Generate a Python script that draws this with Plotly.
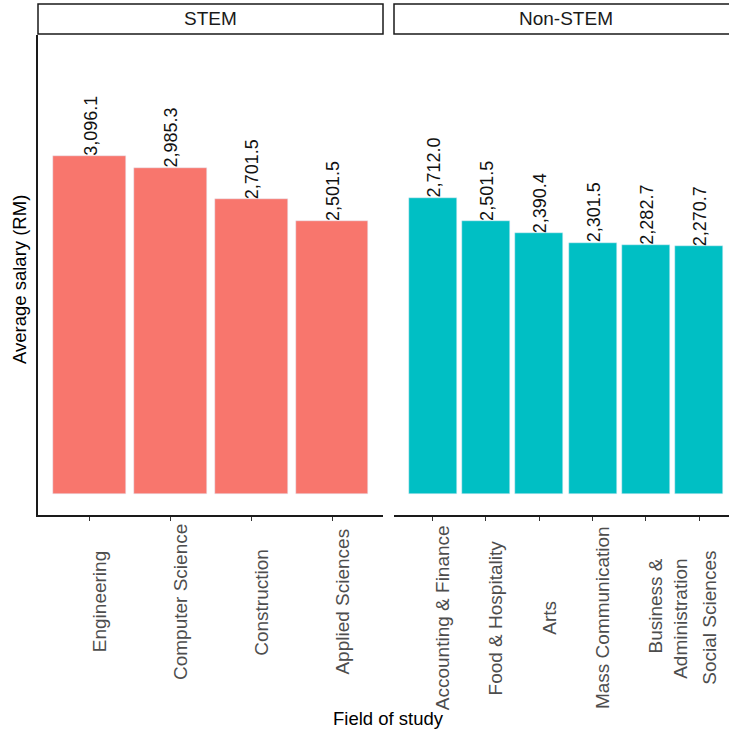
import plotly.graph_objects as go

# ---- data ----
stem_fields = ["Engineering", "Computer Science", "Construction", "Applied Sciences"]
stem_salary = [3096.1, 2985.3, 2701.5, 2501.5]
non_fields = ["Accounting & Finance", "Food & Hospitality", "Arts", "Mass Communication",
              "Business &<br>Administration", "Social Sciences"]
non_salary = [2712.0, 2501.5, 2390.4, 2301.5, 2282.7, 2270.7]
facet_labels = ["STEM", "Non-STEM"]
x_title = "Field of study"
y_title = "Average salary (RM)"

W, H = 729, 732
FONT = "Liberation Sans, Arial, sans-serif"
STEM_COL = "#F8766D"
NON_COL = "#00BFC4"

def px_x(p):
    return p / W

def px_y(p):
    return (H - p) / H

fig = go.Figure()
fig.add_trace(go.Bar(x=stem_fields, y=stem_salary, marker_color=STEM_COL, width=0.9,
                     xaxis="x", yaxis="y", showlegend=False, hoverinfo="x+y"))
fig.add_trace(go.Bar(x=non_fields, y=non_salary, marker_color=NON_COL, width=0.9,
                     xaxis="x2", yaxis="y", showlegend=False, hoverinfo="x+y"))

annotations = []
# value labels
for fields, vals, xr in [(stem_fields, stem_salary, "x"), (non_fields, non_salary, "x2")]:
    for f, v in zip(fields, vals):
        annotations.append(dict(x=f, y=v, xref=xr, yref="y", text=f"{v:,.1f}",
                                textangle=-90, showarrow=False, xanchor="center",
                                yanchor="bottom", xshift=1, yshift=-2,
                                font=dict(family=FONT, size=18, color="#111111")))
# tick labels (centred block under each panel)
for fields, xr, yc in [(stem_fields, "x", 602), (non_fields, "x2", 618)]:
    for f in fields:
        annotations.append(dict(x=f, y=px_y(yc), xref=xr, yref="paper", text=f,
                                textangle=-90, showarrow=False, xanchor="left",
                                yanchor="middle", align="right", xshift=-3,
                                font=dict(family=FONT, size=19, color="#4D4D4D")))
# strip labels
strip_boxes = [(38, 383), (394, 738)]
for lab, (a, b) in zip(facet_labels, strip_boxes):
    annotations.append(dict(x=px_x((a + b) / 2), y=px_y(19), xref="paper", yref="paper",
                            text=lab, showarrow=False, xanchor="center", yanchor="middle",
                            font=dict(family=FONT, size=19, color="#1A1A1A")))
# axis titles
annotations.append(dict(x=px_x(388), y=px_y(718), xref="paper", yref="paper", text=x_title,
                        showarrow=False, xanchor="center", yanchor="middle",
                        font=dict(family=FONT, size=18.5, color="#000000")))
annotations.append(dict(x=px_x(19), y=px_y(280), xref="paper", yref="paper", text=y_title,
                        showarrow=False, xanchor="center", yanchor="middle", textangle=-90,
                        font=dict(family=FONT, size=18.5, color="#000000")))

shapes = []
for a, b in strip_boxes:
    shapes.append(dict(type="rect", xref="paper", yref="paper",
                       x0=px_x(a), x1=px_x(b), y0=px_y(34), y1=px_y(4),
                       line=dict(color="#1A1A1A", width=1.5), fillcolor="rgba(0,0,0,0)"))

axis_common = dict(type="category", showgrid=False, zeroline=False, showline=True,
                   linecolor="#1A1A1A", linewidth=1.5, ticks="outside", ticklen=4,
                   tickwidth=1.3, tickcolor="#333333", showticklabels=False, fixedrange=True)

fig.update_layout(
    width=W, height=H,
    margin=dict(l=0, r=0, t=0, b=0),
    paper_bgcolor="white", plot_bgcolor="white",
    bargap=0,
    xaxis=dict(domain=[px_x(38), px_x(383)], range=[-0.64, 3.63], anchor="y",
               categoryorder="array", categoryarray=stem_fields, **axis_common),
    xaxis2=dict(domain=[px_x(394), 1.0], range=[-0.726, 5.56], anchor="y",
                categoryorder="array", categoryarray=non_fields, **axis_common),
    yaxis=dict(domain=[px_y(515), px_y(35)], range=[-192, 4204], anchor="x",
               showgrid=False, zeroline=False, showline=True, linecolor="#1A1A1A",
               linewidth=1.5, ticks="", showticklabels=False, fixedrange=True),
    annotations=annotations,
    shapes=shapes,
    font=dict(family=FONT),
)

fig.write_html("out.html", config={"displayModeBar": False},
               post_script="document.body.style.margin='0';document.body.style.overflow='hidden';")
